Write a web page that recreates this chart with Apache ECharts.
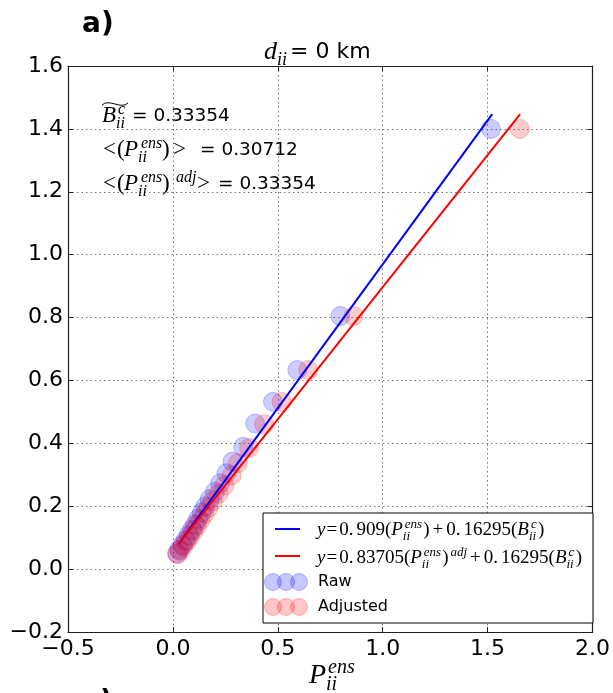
<!DOCTYPE html>
<html>
<head>
<meta charset="utf-8">
<script src="https://cdn.jsdelivr.net/npm/echarts@6/dist/echarts.min.js"></script>
<style>
  html, body { margin: 0; padding: 0; background: #fff; }
  #main { width: 613px; height: 693px; }
</style>
</head>
<body>
<div id="main"></div>
<script type="text/javascript">
// ---- data ----
var rawX = [1.516, 0.798, 0.593, 0.477, 0.392, 0.335, 0.284, 0.255, 0.225, 0.200, 0.175, 0.155, 0.138, 0.120, 0.105, 0.090, 0.075, 0.060, 0.045, 0.030, 0.020];
var rawY = [1.400, 0.805, 0.633, 0.532, 0.463, 0.389, 0.342, 0.305, 0.273, 0.246, 0.222, 0.200, 0.180, 0.160, 0.142, 0.125, 0.108, 0.092, 0.077, 0.062, 0.050];
var adjX = [1.654, 0.861, 0.645, 0.518, 0.435, 0.363, 0.310, 0.280, 0.245, 0.218, 0.190, 0.170, 0.150, 0.131, 0.114, 0.098, 0.082, 0.066, 0.049, 0.033, 0.022];
var adjY = [1.400, 0.805, 0.633, 0.532, 0.461, 0.385, 0.337, 0.298, 0.266, 0.240, 0.216, 0.195, 0.175, 0.155, 0.138, 0.121, 0.104, 0.088, 0.073, 0.058, 0.047];
var fitRawX = [0.028, 1.522];
var fitRawY = [0.080, 1.447];
var fitAdjX = [0.028, 1.655];
var fitAdjY = [0.080, 1.447];

function pairs(xs, ys) {
  return xs.map(function (x, i) { return [x, ys[i]]; });
}

// ---- helper for matplotlib-like math text ----
var SANS = '"DejaVu Sans"', SERIF = '"Liberation Serif"';
var mctx = document.createElement('canvas').getContext('2d');
function tw(s, font) { mctx.font = font; return mctx.measureText(s).width; }
function fnt(kind, size) {
  if (kind === 'it') return 'italic ' + size + 'px ' + SERIF;
  if (kind === 'rm') return size + 'px ' + SERIF;
  if (kind === 'bold') return 'bold ' + size + 'px ' + SANS;
  return size + 'px ' + SANS;
}
function txt(x, y, s, font) {
  return {
    type: 'text', x: x, y: y, silent: true, z: 100,
    style: { text: s, font: font, fill: '#000',
             verticalAlign: 'middle', textVerticalAlign: 'middle' }
  };
}
// pieces: ['it'|'rm'|'sans', text, gapAfter, sizeOverride], {at: x} to move the pen,
// {sup, sub, at, gap} for scripts stacked at the same x
function mathLine(x0, y, size, pieces) {
  var out = [], x = x0, ss = Math.round(size * 0.7);
  pieces.forEach(function (p) {
    if (Array.isArray(p)) {
      var f = fnt(p[0], p[3] || size);
      out.push(txt(x, y, p[1], f));
      x += tw(p[1], f) + (p[2] || 0);
    } else {
      if (p.at != null) x = p.at;
      if (!p.sup && !p.sub) return;
      var w = 0, f2 = fnt('it', ss);
      if (p.sup) { out.push(txt(x + 1, y - size * 0.28, p.sup, f2)); w = Math.max(w, tw(p.sup, f2) + 1); }
      if (p.sub) { out.push(txt(x - (p.subBack || 0), y + size * 0.32, p.sub, f2)); w = Math.max(w, tw(p.sub, f2)); }
      x += w + (p.gap != null ? p.gap : 1);
    }
  });
  return out;
}

var graphics = [];
// panel label + clipped label of the next panel
graphics.push(txt(82, 25, 'a)', fnt('bold', 28)));
graphics.push(txt(100, 703, ')', fnt('bold', 28)));

// title
graphics = graphics.concat(mathLine(264, 52, 26, [
  ['it', 'd'], {sub: 'ii'}, {at: 290}, ['sans', '= 0 km', 0, 22]
]));

// annotations
graphics = graphics.concat(mathLine(102, 116, 23, [
  ['it', 'B'], {at: 117, sup: 'c', sub: 'ii', subBack: 1}, {at: 132}, ['sans', '= 0.33354', 0, 18.5]
]));
graphics.push({
  type: 'bezierCurve', silent: true, z: 100,
  shape: { x1: 102, y1: 105, x2: 128, y2: 103, cpx1: 109, cpy1: 98, cpx2: 121, cpy2: 110 },
  style: { stroke: '#000', lineWidth: 1, fill: null }
});
graphics = graphics.concat(mathLine(103, 150, 23, [
  ['rm', '<'], {at: 117}, ['rm', '('], {at: 124}, ['it', 'P'], {at: 140, sup: 'ens', sub: 'ii', subBack: 2},
  {at: 162}, ['rm', ')'], {at: 173}, ['rm', '>'], {at: 200}, ['sans', '= 0.30712', 0, 18.5]
]));
graphics = graphics.concat(mathLine(103, 184, 23, [
  ['rm', '<'], {at: 117}, ['rm', '('], {at: 124}, ['it', 'P'], {at: 140, sup: 'ens', sub: 'ii', subBack: 2},
  {at: 162}, ['rm', ')'], {at: 175, sup: 'adj'}, {at: 197}, ['rm', '>'], {at: 218}, ['sans', '= 0.33354', 0, 18.5]
]));

// x-axis name
graphics = graphics.concat(mathLine(309, 676, 28, [
  ['it', 'P'], {at: 327, sup: 'ens', sub: 'ii', subBack: 1}
]));

// legend box
graphics.push({
  type: 'rect', silent: true, z: 90,
  shape: { x: 263, y: 513, width: 330, height: 110 },
  style: { fill: '#fff', stroke: '#000', lineWidth: 1 }
});
graphics.push({ type: 'line', silent: true, z: 95, shape: { x1: 275, y1: 529, x2: 300, y2: 529 }, style: { stroke: '#0000ff', lineWidth: 2 } });
graphics.push({ type: 'line', silent: true, z: 95, shape: { x1: 275, y1: 556, x2: 300, y2: 556 }, style: { stroke: '#ff0000', lineWidth: 2 } });
[[582, '0,0,255'], [607, '255,0,0']].forEach(function (r) {
  [273, 286, 299].forEach(function (cx) {
    graphics.push({
      type: 'circle', silent: true, z: 95,
      shape: { cx: cx, cy: r[0], r: 8.5 },
      style: { fill: 'rgba(' + r[1] + ',0.22)', stroke: 'rgba(' + r[1] + ',0.25)', lineWidth: 1 }
    });
  });
});
graphics = graphics.concat(mathLine(317, 530, 19, [
  ['it', 'y', 1], ['rm', '=', 2], ['rm', '0.', 3], ['rm', '909('], ['it', 'P', 1], {sup: 'ens', sub: 'ii', subBack: 1, gap: 1},
  ['rm', ')', 3], ['rm', '+', 3], ['rm', '0.', 3], ['rm', '16295('], ['it', 'B', 1], {sup: 'c', sub: 'ii', subBack: 1, gap: 1}, ['rm', ')']
]));
graphics = graphics.concat(mathLine(317, 558, 19, [
  ['it', 'y', 1], ['rm', '=', 2], ['rm', '0.', 3], ['rm', '83705('], ['it', 'P', 1], {sup: 'ens', sub: 'ii', subBack: 1, gap: 1},
  ['rm', ')', 1], {sup: 'adj', gap: 3}, ['rm', '+', 3], ['rm', '0.', 3], ['rm', '16295('], ['it', 'B', 1], {sup: 'c', sub: 'ii', subBack: 1, gap: 1}, ['rm', ')']
]));
graphics.push(txt(318, 582, 'Raw', fnt('sans', 16)));
graphics.push(txt(318, 607, 'Adjusted', fnt('sans', 16)));

function fmt(v) { return v.toFixed(1).replace('-', '\u2212'); }

var axisFont = { color: '#000', fontFamily: 'DejaVu Sans', fontSize: 22 };
var edge = { show: true, onZero: false, lineStyle: { color: '#222', width: 1.2 } };
var tick = { show: true, inside: true, length: 5, lineStyle: { color: '#222' } };
var grid = { show: true, lineStyle: { color: '#777', type: [1.5, 3], width: 1 } };

var myChart = echarts.init(document.getElementById('main'));
var option = {
  animation: false,
  backgroundColor: '#fff',
  grid: { left: 68, right: 19, top: 66, bottom: 61, containLabel: false },
  xAxis: [
    { type: 'value', min: -0.5, max: 2.0, interval: 0.5, position: 'bottom',
      axisLine: edge, axisTick: tick, splitLine: grid,
      axisLabel: Object.assign({ margin: 6, formatter: fmt }, axisFont) },
    { type: 'value', min: -0.5, max: 2.0, interval: 0.5, position: 'top',
      axisLine: edge, axisTick: tick, splitLine: { show: false }, axisLabel: { show: false } }
  ],
  yAxis: [
    { type: 'value', min: -0.2, max: 1.6, interval: 0.2, position: 'left',
      axisLine: edge, axisTick: tick, splitLine: grid,
      axisLabel: Object.assign({ margin: 5, formatter: fmt }, axisFont) },
    { type: 'value', min: -0.2, max: 1.6, interval: 0.2, position: 'right',
      axisLine: edge, axisTick: tick, splitLine: { show: false }, axisLabel: { show: false } }
  ],
  series: [
    { name: 'Raw', type: 'scatter', data: pairs(rawX, rawY), symbolSize: 19, z: 2,
      itemStyle: { color: 'rgba(0,0,255,0.2)', borderColor: 'rgba(0,0,255,0.22)', borderWidth: 1, opacity: 1 } },
    { name: 'Adjusted', type: 'scatter', data: pairs(adjX, adjY), symbolSize: 19, z: 2,
      itemStyle: { color: 'rgba(255,0,0,0.2)', borderColor: 'rgba(255,0,0,0.22)', borderWidth: 1, opacity: 1 } },
    { name: 'fitRaw', type: 'line', data: pairs(fitRawX, fitRawY), symbol: 'none', z: 3,
      lineStyle: { color: '#0000ff', width: 2 } },
    { name: 'fitAdj', type: 'line', data: pairs(fitAdjX, fitAdjY), symbol: 'none', z: 3,
      lineStyle: { color: '#ff0000', width: 2 } }
  ],
  graphic: graphics
};
myChart.setOption(option);
</script>
</body>
</html>
